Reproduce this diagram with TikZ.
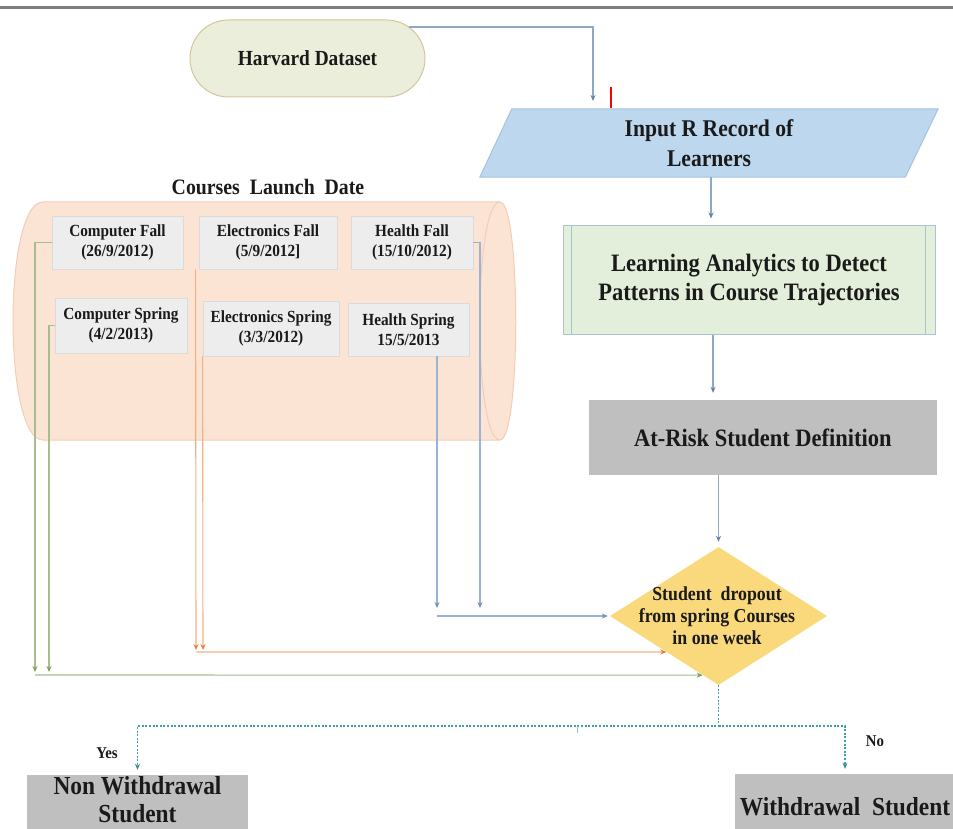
\documentclass[tikz,border=0pt]{standalone}
\usepackage{fontspec}
\setmainfont{Liberation Serif}[FakeStretch=0.9]
\usetikzlibrary{shapes.geometric,shapes.misc,arrows.meta,calc}
\pgfdeclarelayer{bg}
\pgfsetlayers{bg,main}

\definecolor{rulegray}{HTML}{7F7F7F}
\definecolor{ink}{HTML}{1A1A1A}
\definecolor{harvfill}{HTML}{EAEEDB}
\definecolor{harvedge}{HTML}{D5C59D}
\definecolor{infill}{HTML}{BDD7EE}
\definecolor{inedge}{HTML}{A4C2E0}
\definecolor{learnfill}{HTML}{E3EFDA}
\definecolor{learnedge}{HTML}{A9C3D1}
\definecolor{grayfill}{HTML}{BFBFBF}
\definecolor{dropfill}{HTML}{FAD97C}
\definecolor{cylfill}{HTML}{FCE4D4}
\definecolor{cyledge}{HTML}{F2CDB5}
\definecolor{crsfill}{HTML}{EDEDED}
\definecolor{crsedge}{HTML}{DADADA}
\definecolor{flowline}{HTML}{8DA9C4}
\definecolor{flowtip}{HTML}{5F83A8}
\definecolor{grnline}{HTML}{A6BD8C}
\definecolor{grntip}{HTML}{7F9F58}
\definecolor{orgline}{HTML}{F2B084}
\definecolor{orgtip}{HTML}{E97B3B}
\definecolor{bluline}{HTML}{9AB3D5}
\definecolor{blutip}{HTML}{6E91C0}
\definecolor{decline}{HTML}{3E9FA6}
\definecolor{dectip}{HTML}{2E8A8F}

\newcommand\myfs[2]{\fontsize{#1}{#2}\selectfont}

\begin{document}
\begin{tikzpicture}[x=1pt,y=-1pt,
  lbl/.style={font=\bfseries, text=ink, align=center, inner sep=0pt},
  course/.style={lbl, rectangle, fill=crsfill, draw=crsedge, line width=0.8pt,
    font=\bfseries\myfs{17}{20}},
  graybox/.style={lbl, rectangle, fill=grayfill},
  link/.style={line width=1.1pt},
  tipped/.style={-{Stealth[length=6pt,width=5pt,color=#1]}},
  flow/.style={link, flowline, tipped=flowtip},
  grn/.style={link, grnline, tipped=grntip},
  org/.style={link, orgline, tipped=orgtip},
  blu/.style={link, bluline, tipped=blutip},
  dec/.style={line width=1.2pt, decline, dash pattern=on 2pt off 1.6pt,
    -{Stealth[length=6pt,width=5pt,color=dectip]}}
]
\useasboundingbox (0,0) rectangle (953,829);

% rule across the top
\draw[rulegray, line width=3pt] (0,8) -- (953,8);

% source and main column
\node[lbl, rounded rectangle, fill=harvfill, draw=harvedge, line width=1pt,
  minimum width=235pt, minimum height=77pt, font=\bfseries\myfs{21.5}{24}]
  (harvard) at (307.5,58.5) {Harvard Dataset};

\node[lbl, minimum width=458pt, minimum height=68pt, font=\bfseries\myfs{24}{30}]
  (input) at (709,143) {Input R Record of\\Learners};
\begin{pgfonlayer}{bg}
  \draw[fill=infill, draw=inedge, line width=1pt]
    (input.south west) -- ([xshift=32pt]input.north west) -- (input.north east)
    -- ([xshift=-33pt]input.south east) -- cycle;
\end{pgfonlayer}

\node[lbl, rectangle, fill=learnfill, draw=learnedge, line width=1pt,
  minimum width=372pt, minimum height=108pt, font=\bfseries\myfs{25}{29}]
  (learn) at (749,280) {Learning Analytics to Detect\\Patterns in Course Trajectories};
\draw[learnedge, line width=1pt] ([xshift=9pt]learn.north west) -- ([xshift=9pt]learn.south west);
\draw[learnedge, line width=1pt] ([xshift=-10pt]learn.north east) -- ([xshift=-10pt]learn.south east);

\node[graybox, minimum width=348pt, minimum height=75pt, font=\bfseries\myfs{25}{28}]
  (risk) at (763,437.5) {At-Risk Student Definition};

\node[diamond, fill=dropfill, minimum width=217pt, minimum height=138pt, inner sep=0pt]
  (drop) at (718.5,616) {};
\node[lbl, font=\bfseries\myfs{19.8}{22}] (droptxt) at (717,616)
  {Student\ \ dropout\\from spring Courses\\in one week};

% course launch dates, drawn as a lying cylinder
\node[lbl, font=\bfseries\myfs{22}{24}] (title) at (268,187) {Courses\ \ Launch\ \ Date};
\draw[fill=cylfill, draw=cyledge, line width=1pt]
  (43,202) -- (500,202) .. controls (521,202) and (521,440) .. (500,440)
  -- (43,440) .. controls (3,440) and (3,202) .. (43,202) -- cycle;
\draw[cyledge, line width=1pt] (500,202) .. controls (473,202) and (473,440) .. (500,440);

\node[course, minimum width=131pt, minimum height=53pt] (cf) at (117.5,242.5) {Computer Fall\\(26/9/2012)};
\node[course, minimum width=138pt, minimum height=53pt] (ef) at (268,242.5) {Electronics Fall\\(5/9/2012]};
\node[course, minimum width=122pt, minimum height=53pt] (hf) at (412,242.5) {Health Fall\\(15/10/2012)};
\node[course, minimum width=132pt, minimum height=55pt] (cs) at (121,325.5) {Computer Spring\\(4/2/2013)};
\node[course, minimum width=136pt, minimum height=55pt] (es) at (271,328.5) {Electronics Spring\\(3/3/2012)};
\node[course, minimum width=121pt, minimum height=53pt] (hs) at (408.5,329.5) {Health Spring\\15/5/2013};

% outcomes (both boxes run on past the lower edge)
\node[graybox, minimum width=221pt, minimum height=62pt] (nonw) at (137.5,806) {};
\node[lbl, font=\bfseries\myfs{26}{28}] (nonwtxt) at (137.5,800) {Non Withdrawal\\Student};
\node[graybox, minimum width=220pt, minimum height=66pt, font=\bfseries\myfs{26}{29}]
  (wd) at (845,807) {Withdrawal\ \ Student};

% main column connectors
\coordinate (inTop) at (593,101);
\draw[flow] ($(harvard.east)+(-17,-31.5)$) -| (inTop);
\draw[red, line width=2pt] (611,87) -- (611,108);
\draw[flow, shorten >=7pt] (input.south -| 711,0) -- (learn.north -| 711,0);
\draw[flow, shorten >=7pt] (learn.south -| 713,0) -- (risk.north -| 713,0);
\draw[flow, shorten >=5pt] (risk.south -| 718.5,0) -- (drop.north);

% computer courses
\coordinate (g1) at (35,672);
\coordinate (g2) at (49,672);
\coordinate (g0) at (35,675);
\draw[grn] (cf.west) -| (g1);
\draw[grn] (cs.west) -| (g2);
\draw[grn] (g0) -- ($(drop.west)!0.855!(drop.south)$);

% electronics courses
\coordinate (o1) at (196,650);
\coordinate (o2) at (203,650);
\coordinate (o0) at (196,652);
\draw[org] ([xshift=-3pt]ef.south west) -- (o1);
\draw[org] (es.south west) -- (o2);
\draw[org] (o0) -- ($(drop.west)!0.52!(drop.south)$);

% health courses
\coordinate (b1) at (437,608);
\coordinate (b2) at (480,608);
\coordinate (b0) at (437,616);
\draw[blu] (hs.south -| b1) -- (b1);
\draw[blu] (hf.east) -| (b2);
\draw[blu, shorten >=2pt] (b0) -- (drop.west);

% decision branches
\coordinate (split) at (718.5,726);
\draw[dec] (drop.south) -- (split) -| ([yshift=5pt]nonw.north);
\draw[dec] (split) -| ([yshift=5pt]wd.north);
\draw[decline!60, line width=0.8pt] (577,726) -- (577,733);
\node[lbl, font=\bfseries\myfs{16.5}{18}] (yes) at (107,753) {Yes};
\node[lbl, font=\bfseries\myfs{16.5}{18}] (no) at (875,741) {No};
\end{tikzpicture}
\end{document}
